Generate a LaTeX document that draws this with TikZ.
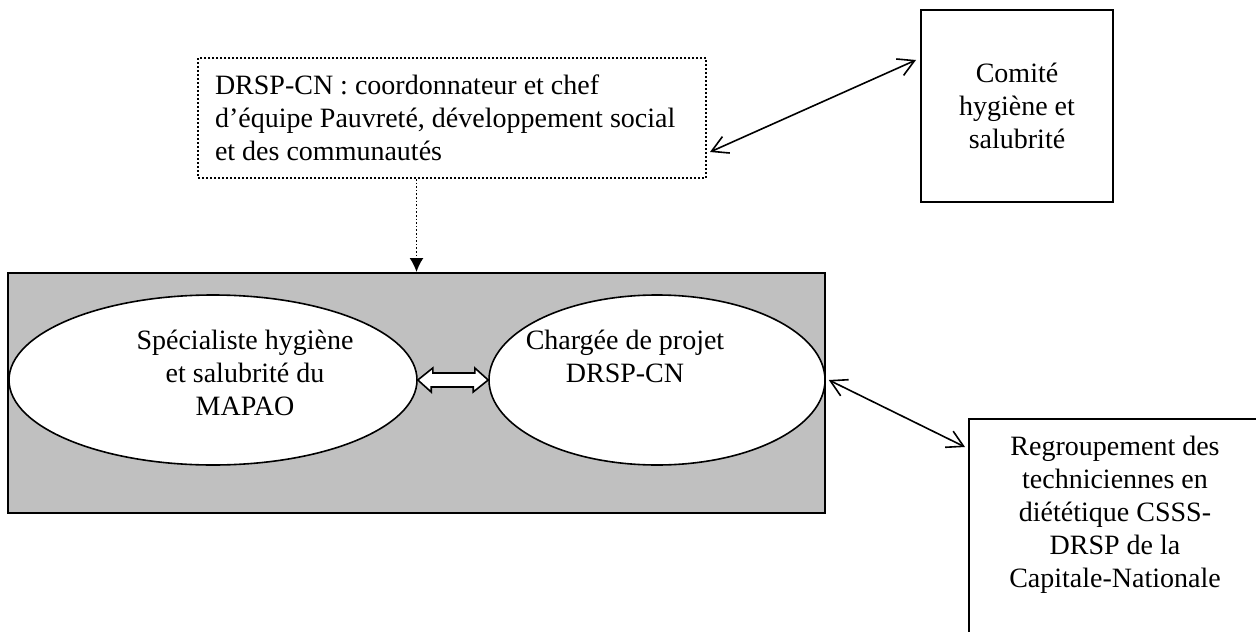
\documentclass[tikz,border=0pt]{standalone}
\usepackage{fontspec}
\setmainfont{Liberation Serif}
\usetikzlibrary{arrows.meta,shapes.geometric}
\definecolor{fond}{RGB}{192,192,192}
\newcommand{\Cadre}{(0,0) rectangle (1256,631)}
\newcommand{\Pointe}{Straight Barb[length=8pt,width=9pt]}

\begin{document}
\begin{tikzpicture}[x=0.5pt,y=-0.5pt,line width=0.8pt,
  every node/.style={font=\fontsize{14}{16.5}\selectfont,inner sep=0pt},
  boite/.style={draw,line width=1pt,rectangle,align=center},
  bulle/.style={draw,ellipse,fill=white,minimum height=85pt},
  fleche/.style={{\Pointe}-{\Pointe}}]
\useasboundingbox \Cadre;
\clip \Cadre;
\node[boite,fill=fond,minimum width=408.5pt,minimum height=120pt] (fond) at (416.5,393) {};
\node[bulle,minimum width=204pt] (spec) at (213,380)
  {\makebox[0pt]{\hspace*{32pt}\parbox{112pt}{\centering Spécialiste hygiène\\ et salubrité du\\ MAPAO\par\vspace{7pt}}}};
\node[bulle,minimum width=168pt] (charge) at (657,380)
  {\makebox[0pt]{\parbox{104pt}{\centering Chargée de projet\\ DRSP-CN\\ \mbox{}\par\vspace{7pt}}\hspace*{32pt}}};
\node[boite,densely dotted,align=flush left,text width=237pt,inner xsep=8.5pt,minimum height=60pt] (drsp) at (452,118)
  {DRSP-CN : coordonnateur et chef\\ d’équipe Pauvreté, développement social\\ et des communautés};
\node[boite,minimum width=96pt,minimum height=96pt] (comite) at (1017,106)
  {Comité\\ hygiène et\\ salubrité};
\node[boite,anchor=north west,minimum width=146pt,inner ysep=8.4pt,text depth=120pt] (regroup) at (968,418)
  {Regroupement des\\ techniciennes en\\ diététique CSSS-\\ DRSP de la\\ Capitale-Nationale};
\draw[densely dotted,-{Latex[length=7pt,width=7pt]}] (drsp.south -| fond.north) -- (fond.north);
\draw[fleche] ([xshift=1.5pt,yshift=-17pt]drsp.east) -- ([xshift=-2pt,yshift=23pt]comite.west);
\draw[fleche] ([xshift=1.5pt]charge.east) -- ([xshift=-1.5pt,yshift=-14.5pt]regroup.north west);
\draw[fill=white] (spec.east) -- ++(15,-12) -- ++(0,5) -- ++(42,0) -- ++(0,-5) -- (charge.west)
  -- ++(-15,12) -- ++(0,-5) -- ++(-42,0) -- ++(0,5) -- cycle;
\end{tikzpicture}
\end{document}
